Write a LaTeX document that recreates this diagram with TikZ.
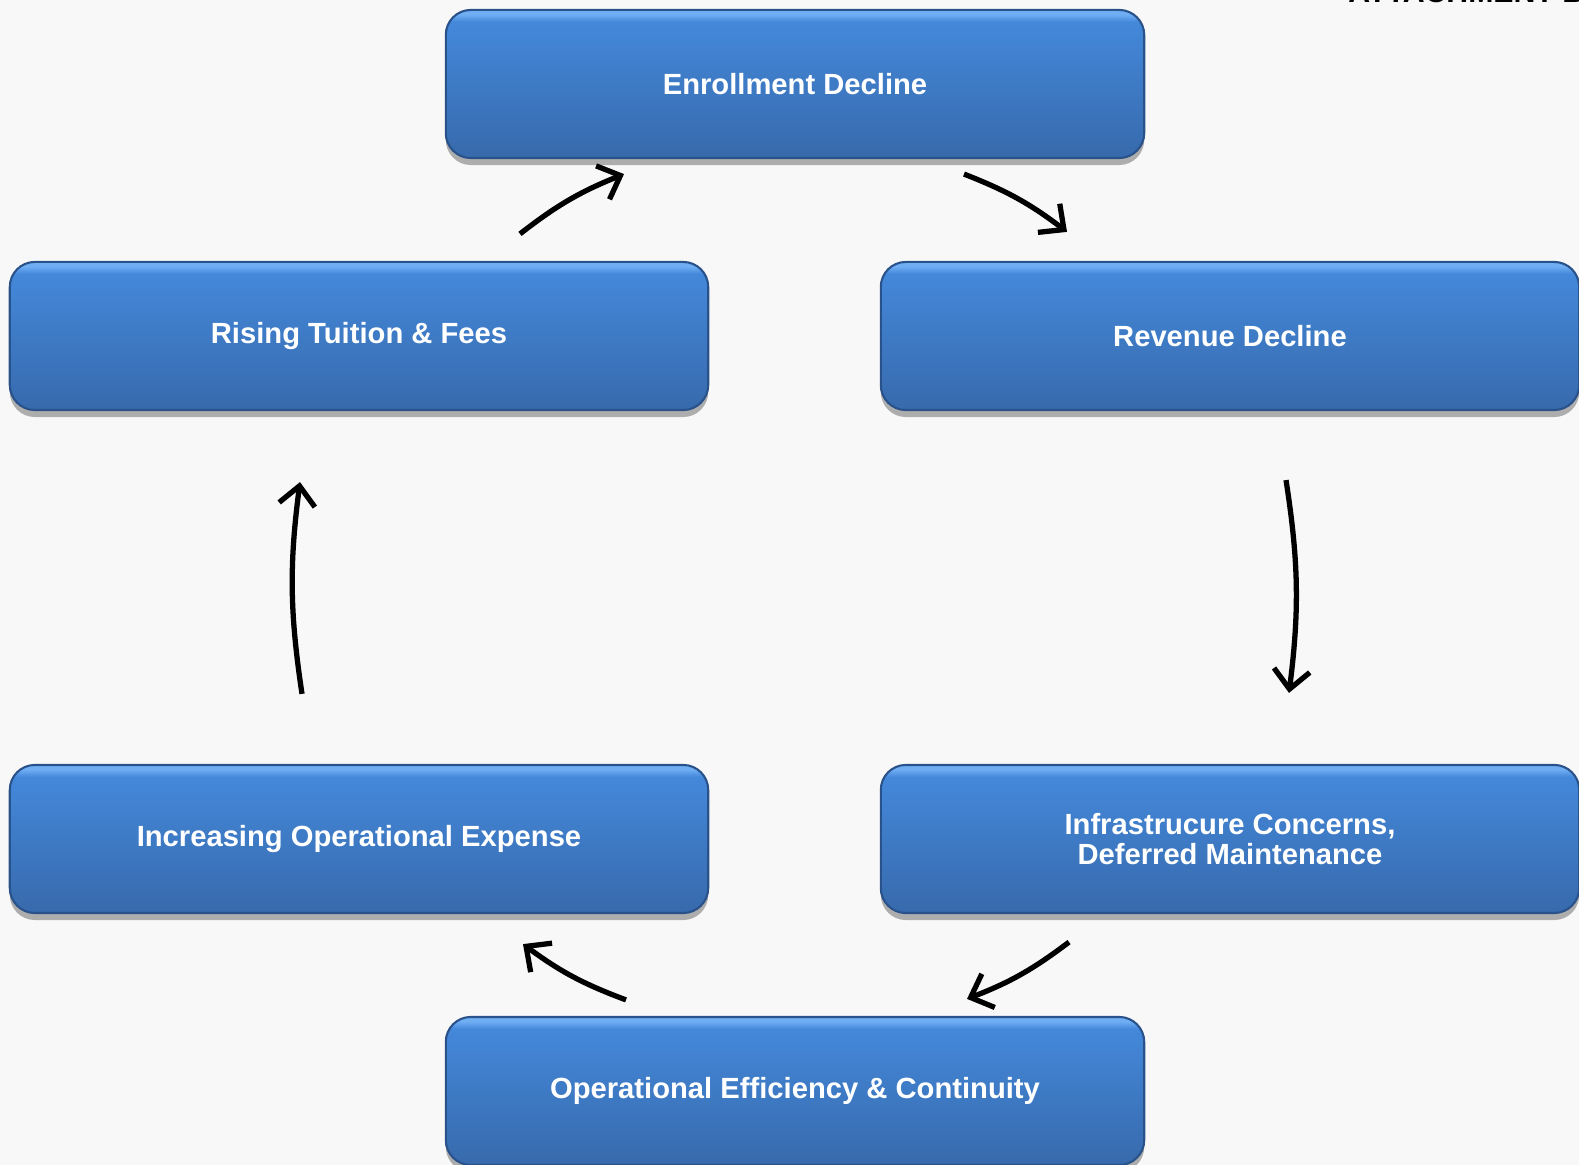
\documentclass[tikz,border=0pt]{standalone}
\usepackage{fontspec}
\setmainfont{Liberation Sans}
\usepackage{tikz}
\usetikzlibrary{arrows.meta, shadows}
\definecolor{bgray}{HTML}{F8F8F8}
\definecolor{btop}{RGB}{68,136,218}
\definecolor{bbot}{RGB}{55,106,172}
\definecolor{bhi}{RGB}{112,174,244}
\definecolor{bline}{RGB}{42,82,138}
\pgfdeclareverticalshading{boxshade}{100bp}{color(0bp)=(bbot); color(25bp)=(bbot); color(71bp)=(btop); color(73.5bp)=(bhi); color(75bp)=(bhi); color(100bp)=(bhi)}
\tikzset{cyclebox/.style={rounded corners=0.25cm, minimum width=6.98cm, minimum height=1.48cm, shading=boxshade, draw=bline, line width=0.6pt,
    drop shadow={shadow xshift=0pt, shadow yshift=-0.07cm, fill=black, opacity=0.3},
    text=white, font=\bfseries\fontsize{8.3}{8.6}\selectfont, align=center, inner sep=0pt},
  cyclearrow/.style={-{Straight Barb[length=0.19cm,width=0.36cm]}, line width=1.5pt, bend left=8}}

\begin{document}
\begin{tikzpicture}[x=0.01cm,y=0.01cm]
                 \useasboundingbox(0,0)rectangle(1579,-1165);
                 \fill[bgray](0,0)rectangle(1579,-1165);
                 \node[anchor=base west, font=\bfseries\fontsize{8.6}{10}\selectfont](att)at(1336,-3){ATTACHMENT B};
                 % the six stages of the cycle
                 \node[cyclebox](enr)at(795,-84){Enrollment Decline};
                 \node[cyclebox](rev)at(1230,-336){Revenue Decline};
                 \node[cyclebox](infra)at(1230,-839){Infrastrucure Concerns,\\Deferred Maintenance};
                 \node[cyclebox](opr)at(795,-1091){Operational Efficiency \& Continuity};
                 \node[cyclebox](inc)at(359,-839){Increasing Operational Expense};
                 \node[cyclebox](rise)at(359,-336){Rising Tuition \& Fees};
                 % arrows round the cycle
                 \draw[cyclearrow]([shift={(161,27)}]rise.north)to([shift={(-171,-15)}]enr.south);
                 \draw[cyclearrow]([shift={(169,-15)}]enr.south)to([shift={(-163,29)}]rev.north);
                 \draw[cyclearrow]([shift={(56,-69)}]rev.south)to([shift={(59,71)}]infra.north);
                 \draw[cyclearrow]([shift={(-161,-28)}]infra.south)to([shift={(172,17)}]opr.north);
                 \draw[cyclearrow]([shift={(-169,16)}]opr.north)to([shift={(164,-30)}]inc.south);
                 \draw[cyclearrow]([shift={(-57,70)}]inc.north)to([shift={(-59,-71)}]rise.south);
             \end{tikzpicture}
\end{document}
